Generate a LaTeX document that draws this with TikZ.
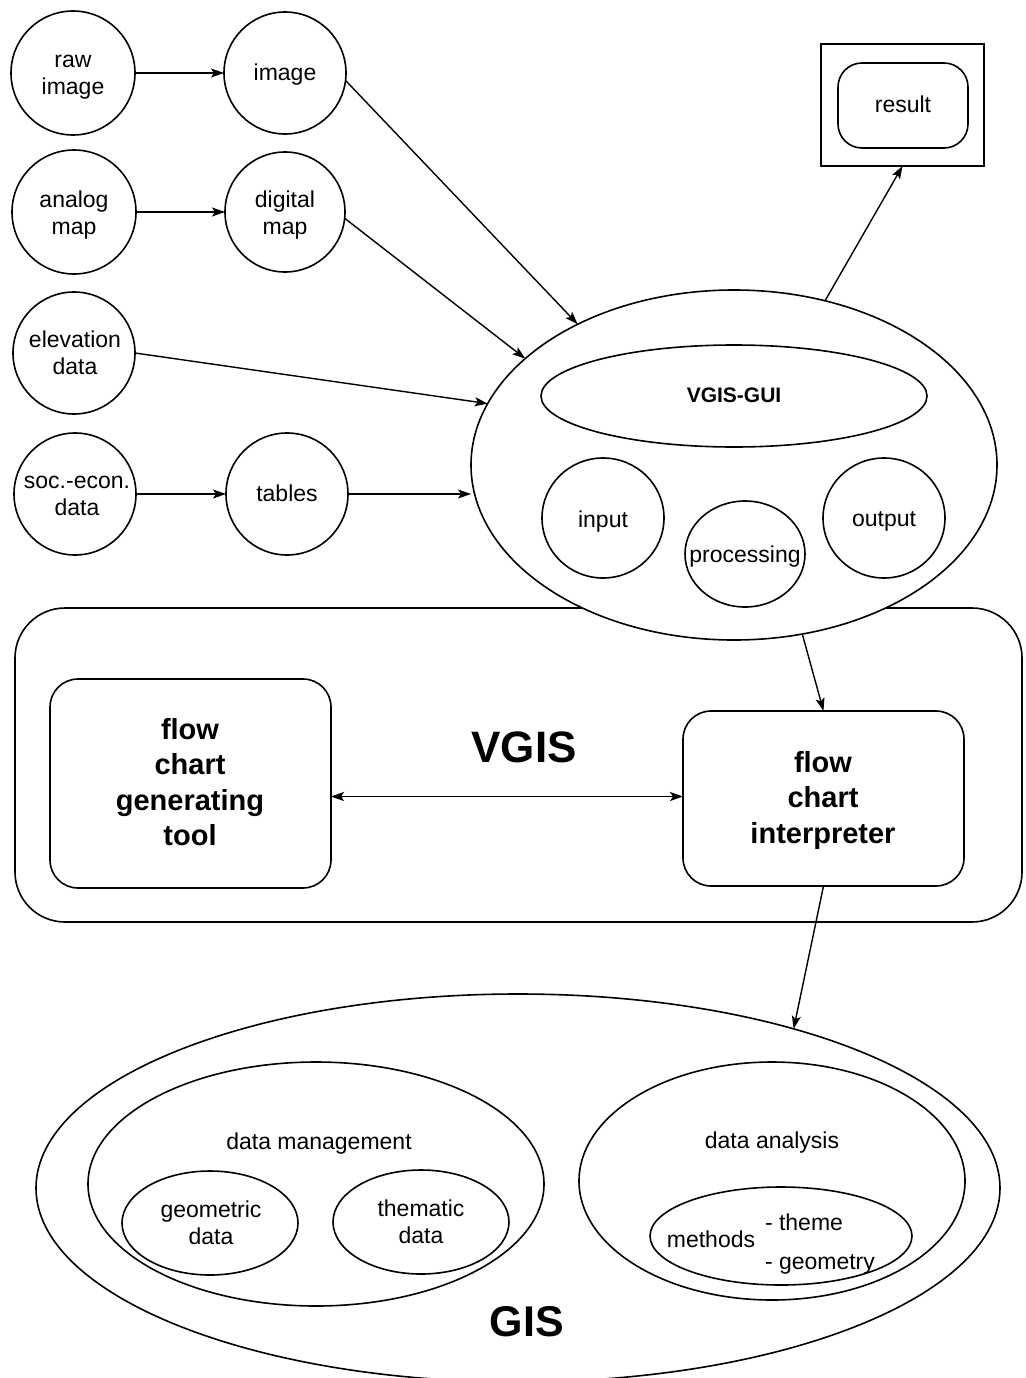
\documentclass[tikz,border=0pt]{standalone}
\usepackage{fontspec}
\setmainfont{Liberation Sans}
\usetikzlibrary{shapes.geometric,arrows.meta,calc}
\begin{document}
\begin{tikzpicture}[x=1pt,y=-1pt,
  every node/.style={inner sep=0pt,outer sep=0pt},
  shp/.style={draw,line width=1.6pt},
  circ/.style={shp,circle,minimum size=#1},
  ell/.style 2 args={shp,ellipse,minimum width=#1,minimum height=#2},
  txt/.style={align=center,font=\fontsize{23}{27}\selectfont},
  btxt/.style={align=center,font=\fontsize{29}{35.5}\selectfont\bfseries},
  arr/.style={line width=1.4pt,-{Stealth[length=13pt,width=9pt,inset=3pt]}},
  darr/.style={line width=1.4pt,{Stealth[length=13pt,width=9pt,inset=3pt]}-{Stealth[length=13pt,width=9pt,inset=3pt]}},
]
\useasboundingbox (0,0) rectangle (1025,1378);

% VGIS container
\node[shp,rounded corners=50pt,minimum width=1007pt,minimum height=314pt] (vgisbox) at (518.5,765) {};
\node[font=\fontsize{44}{50}\selectfont\bfseries] (vgist) at (524,747) {VGIS};

% user interface ellipse
\node[ell={526pt}{350pt},fill=white] (ui) at (734,465) {};
\node[ell={386pt}{102pt}] (gui) at (734,396) {};
\node[font=\fontsize{21}{25}\selectfont\bfseries] (guit) at (734,395) {VGIS-GUI};
\node[ell={122pt}{120pt}] (input) at (603,518) {};
\node[txt] (inputt) at (603,522) {input};
\node[ell={120pt}{106pt}] (proc) at (745,554) {};
\node[txt] (proct) at (745,557) {processing};
\node[ell={122pt}{120pt}] (output) at (884,518) {};
\node[txt] (outputt) at (884,521) {output};

% result
\node[draw,line width=1.2pt,minimum width=163pt,minimum height=122pt] (resbox) at (902.5,105) {};
\node[shp,rounded corners=24pt,minimum width=130pt,minimum height=85pt] (res) at (903,105.5) {};
\node[txt] (rest) at (903,104) {result};

% data sources
\node[circ=124pt] (raw) at (73,73) {};
\node[txt] (rawt) at (73,77) {raw\\image};
\node[circ=122pt] (img) at (285,73) {};
\node[txt] (imgt) at (285,75) {image};
\node[circ=124pt] (ana) at (74,212) {};
\node[txt] (anat) at (74,215) {analog\\map};
\node[circ=120pt] (dig) at (285,212) {};
\node[txt] (digt) at (285,215) {digital\\map};
\node[circ=122pt] (elev) at (74,353) {};
\node[txt] (elevt) at (75,353) {elevation\\data};
\node[circ=122pt] (soc) at (75,494) {};
\node[txt] (soct) at (77,496) {soc.-econ.\\data};
\node[circ=122pt] (tab) at (287,494) {};
\node[txt] (tabt) at (287,493) {tables};

% flow chart boxes
\node[shp,rounded corners=28pt,minimum width=281pt,minimum height=209pt] (tool) at (190.5,783.5) {};
\node[btxt] (toolt) at (190,782) {flow\\chart\\generating\\tool};
\node[shp,rounded corners=28pt,minimum width=281pt,minimum height=175pt] (interp) at (823.5,798.5) {};
\node[btxt] (interpt) at (823,800) {flow\\chart\\interpreter};

% GIS
\node[ell={964pt}{388pt}] (gis) at (518,1188) {};
\node[ell={456pt}{244pt}] (dm) at (316,1184) {};
\node[txt] (dmt) at (319,1144) {data management};
\node[ell={176pt}{104pt}] (geo) at (210,1223) {};
\node[txt] (geot) at (211,1223) {geometric\\data};
\node[ell={176pt}{104pt}] (them) at (421,1222) {};
\node[txt] (themt) at (421,1222) {thematic\\data};
\node[ell={386pt}{238pt}] (da) at (772,1181) {};
\node[txt] (dat) at (772,1143) {data analysis};
\node[ell={262pt}{98pt}] (meth) at (781,1236) {};
\node[txt] (metht) at (711,1239) {methods};
\node[txt,anchor=west] (m1) at (765,1222) {- theme};
\node[txt,anchor=west] (m2) at (765,1264) {- geometry};
\node[font=\fontsize{43}{50}\selectfont\bfseries] (gist) at (527,1322) {GIS};

% connectors
\draw[arr] (raw.east) -- (img.west);
\draw[arr] (ana.east) -- (dig.west);
\draw[arr] (soc.east) -- (tab.west);
\draw[arr] (tab.east) -- (tab.east -| ui.west);
\draw[arr] (img.-7) -- (ui.138);
\draw[arr] (dig.-6) -- (ui.153.5);
\draw[arr] (elev.east) -- (ui.166);
\draw[arr] (ui.61) -- (resbox.south);
\draw[arr] (ui.-68) -- (interp.north);
\draw[arr] (interp.south) -- (gis.30.5);
\draw[darr] ([yshift=2pt]interp.west -| tool.east) -- ([yshift=2pt]interp.west);
\end{tikzpicture}
\end{document}
